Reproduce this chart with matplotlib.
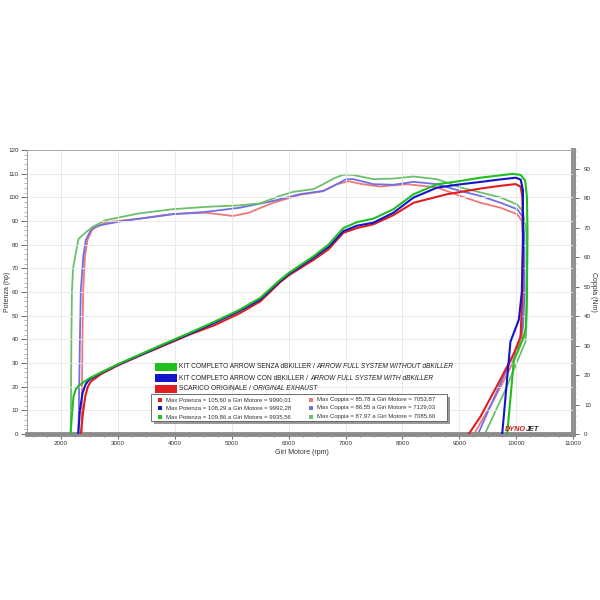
import matplotlib
matplotlib.use("Agg")
import matplotlib.pyplot as plt
from matplotlib.patches import Rectangle
import numpy as np

FONT = ['Liberation Sans', 'DejaVu Sans']
plt.rcParams['font.family'] = FONT

# ---------------- data ----------------
# Power curves (hp) : rpm / hp
green_pw_rpm = [2164, 2190, 2217, 2260, 2317, 2400, 2494, 2700, 3000, 3376, 3800, 4257, 4700, 5139, 5500, 5845, 6000, 6432, 6700, 6962, 7200, 7491, 7843, 8196, 8608, 9019, 9372, 9725, 9935, 10080, 10160, 10190, 10200, 10190, 10170, 10135, 9960, 9843]
green_pw_hp = [0, 8, 15.8, 19, 20.5, 22, 23.5, 26, 29.5, 33.5, 38, 42.7, 47.5, 52.5, 57.5, 65, 68, 75, 80, 87, 89.5, 91, 95, 101.3, 105.5, 106.9, 108.3, 109.3, 109.9, 109.5, 107, 100, 85, 60, 45, 41, 31, 0]

blue_pw_rpm = [2300, 2330, 2376, 2430, 2494, 2700, 3000, 3376, 3800, 4257, 4700, 5139, 5500, 5845, 6000, 6432, 6700, 6962, 7200, 7491, 7843, 8196, 8608, 9019, 9372, 9700, 9992, 10080, 10120, 10120, 10100, 10048, 9900, 9755]
blue_pw_hp = [0, 10, 17.2, 21, 23, 25.8, 29.3, 33.2, 37.7, 42.3, 47, 52, 56.8, 64.5, 67.5, 74.4, 79, 85.7, 88, 89.3, 93.5, 99.9, 104.1, 105.5, 106.5, 107.5, 108.3, 107.5, 103, 80, 60, 48.3, 39, 0]

red_pw_rpm = [2347, 2380, 2423, 2470, 2523, 2700, 3000, 3376, 3800, 4257, 4700, 5139, 5500, 5845, 6000, 6432, 6700, 6962, 7200, 7491, 7843, 8196, 8784, 9372, 9700, 9990, 10080, 10110, 10120, 10110, 10078, 9960, 9700, 9372, 9166]
red_pw_hp = [0, 8, 15.8, 20, 22.2, 25.3, 29, 33, 37.3, 42, 46, 51, 56, 64, 67, 73.5, 78, 85, 87, 88.6, 92.5, 97.7, 101.3, 103.7, 104.8, 105.6, 104.5, 100, 85, 60, 41, 34, 22, 7.3, 0]

# Torque curves (Nm)
green_tq_rpm = [2170, 2180, 2190, 2210, 2305, 2450, 2552, 2788, 3376, 3963, 4551, 5139, 5500, 5845, 6080, 6432, 6608, 6800, 6962, 7086, 7138, 7491, 7843, 8196, 8608, 9019, 9372, 9725, 10019, 10120, 10180, 10195, 10180, 10166, 9800, 9450]
green_tq_nm = [0, 32.1, 48.2, 56.3, 66.2, 68.7, 70.3, 72.6, 74.9, 76.3, 77.1, 77.6, 78.3, 80.8, 82.2, 83.1, 84.8, 86.8, 88.0, 87.97, 87.9, 86.5, 86.7, 87.4, 86.5, 83.7, 82.0, 80.3, 77.9, 75.5, 68.3, 48.2, 36.2, 31.4, 14.5, 0]

blue_tq_rpm = [2305, 2330, 2347, 2390, 2435, 2520, 2611, 3081, 3963, 4551, 5139, 5727, 6198, 6608, 6850, 7000, 7129, 7491, 7843, 8196, 8608, 9019, 9372, 9725, 10019, 10110, 10140, 10150, 10120, 10019, 9700, 9330]
blue_tq_nm = [0, 32.1, 49.0, 60.3, 65.9, 69.1, 70.6, 72.3, 74.6, 75.4, 76.8, 79.1, 81.4, 82.5, 84.8, 86.4, 86.55, 84.8, 84.6, 85.6, 84.8, 82.5, 80.8, 78.5, 76.3, 73.9, 68.3, 48.2, 36.2, 29.7, 16.1, 0]

red_tq_rpm = [2360, 2375, 2388, 2420, 2464, 2550, 2800, 3376, 3963, 4551, 5021, 5300, 5700, 6200, 6600, 6850, 7054, 7300, 7609, 8078, 8608, 9019, 9372, 9725, 10019, 10100, 10130, 10130, 10107, 9900, 9600, 9260]
red_tq_nm = [0, 32.1, 49.0, 60.3, 65.9, 69.5, 71.9, 73.1, 74.7, 75.1, 74.0, 75.1, 78.3, 81.2, 82.4, 84.8, 85.78, 84.8, 84.0, 84.8, 83.7, 80.8, 78.5, 76.8, 74.6, 72.3, 64.3, 48.2, 33.0, 22.5, 11.3, 0]

legend_labels = [
    ("KIT COMPLETO ARROW SENZA dBKILLER / ", "ARROW FULL SYSTEM WITHOUT dBKILLER"),
    ("KIT COMPLETO ARROW CON dBKILLER / ", "ARROW FULL SYSTEM WITH dBKILLER"),
    ("SCARICO ORIGINALE / ", "ORIGINAL EXHAUST"),
]
table_left = [
    "Max Potenza = 105,60 a Giri Motore = 9990,01",
    "Max Potenza = 108,29 a Giri Motore = 9992,28",
    "Max Potenza = 109,86 a Giri Motore = 9935,56",
]
table_right = [
    "Max Coppia = 85,78 a Giri Motore = 7053,87",
    "Max Coppia = 86,55 a Giri Motore = 7129,03",
    "Max Coppia = 87,97 a Giri Motore = 7085,60",
]

# ---------------- style ----------------
C_GREEN = '#1fbf1f'
C_BLUE = '#1414c8'
C_RED = '#e01e1e'
C_LGREEN = '#6cbf6c'
C_LBLUE = '#7070e6'
C_LRED = '#f07878'

W = H = 600
fig = plt.figure(figsize=(6, 6), dpi=100)
fig.patch.set_facecolor('white')

def fx(x):
    return x / W

def fy(y):
    return 1 - y / H

ax = fig.add_axes([fx(27), fy(434), fx(573) - fx(27), fy(150) - fy(434)])
ax.set_xlim(1400, 11000)
ax.set_ylim(0, 120)
ax2 = ax.twinx()
ax2.set_ylim(0, 96.4)

for a in (ax, ax2):
    for s in a.spines.values():
        s.set_color('#a0a0a0')
        s.set_linewidth(0.6)

ax.spines['bottom'].set_color('#8c8c8c')
ax.spines['bottom'].set_linewidth(3.5)
ax2.spines['bottom'].set_visible(False)
ax2.spines['right'].set_color('#8c8c8c')
ax2.spines['right'].set_linewidth(3.5)

ax.set_xticks(np.arange(2000, 11001, 1000))
ax.set_xticks(np.arange(1500, 11001, 250), minor=True)
ax.set_yticks(np.arange(0, 121, 10))
ax.set_yticks(np.arange(0, 121, 2), minor=True)
ax2.set_yticks(np.arange(0, 91, 10))
ax2.set_yticks(np.arange(0, 97, 2), minor=True)

tick_kw = dict(labelsize=4.5, colors='#555555', labelcolor='#333333')
ax.tick_params(axis='x', which='major', length=3.5, width=0.6, pad=1.5, **tick_kw)
ax.tick_params(axis='x', which='minor', length=2.5, width=0.5, colors='#666666')
ax.tick_params(axis='y', which='major', length=4, width=0.6, pad=2, **tick_kw)
ax.tick_params(axis='y', which='minor', length=2, width=0.4, colors='#777777')
ax2.tick_params(axis='y', which='major', length=4, width=0.6, pad=4, **tick_kw)
ax2.tick_params(axis='y', which='minor', length=2, width=0.4, colors='#777777')

ax.grid(True, which='major', color='#e6e6e6', linewidth=0.6)
ax.set_axisbelow(True)

# curves
ax2.plot(red_tq_rpm, red_tq_nm, color=C_LRED, lw=1.3, solid_joinstyle='round', zorder=3)
ax2.plot(blue_tq_rpm, blue_tq_nm, color=C_LBLUE, lw=1.3, solid_joinstyle='round', zorder=3)
ax2.plot(green_tq_rpm, green_tq_nm, color=C_LGREEN, lw=1.3, solid_joinstyle='round', zorder=3)
ax.plot(red_pw_rpm, red_pw_hp, color=C_RED, lw=1.5, solid_joinstyle='round', zorder=4)
ax.plot(blue_pw_rpm, blue_pw_hp, color=C_BLUE, lw=1.5, solid_joinstyle='round', zorder=4)
ax.plot(green_pw_rpm, green_pw_hp, color=C_GREEN, lw=1.5, solid_joinstyle='round', zorder=4)
ax.set_zorder(ax2.get_zorder() + 1)
ax.patch.set_visible(False)

# axis labels
fig.text(fx(8), fy(292), 'Potenza (hp)', rotation=90, ha='center', va='center', fontsize=5, color='#333333')
fig.text(fx(594), fy(292), 'Coppia (Nm)', rotation=270, ha='center', va='center', fontsize=5, color='#333333')
fig.text(fx(302), fy(453), 'Giri Motore (rpm)', ha='center', va='center', fontsize=5, color='#333333')

# legend
leg_colors = [C_GREEN, C_BLUE, C_RED]
leg_y = [367, 378, 389]
for col, (t_norm, t_ital), y in zip(leg_colors, legend_labels, leg_y):
    fig.patches.append(Rectangle((fx(155), fy(y + 4)), fx(22), fy(y - 4) - fy(y + 4),
                                 transform=fig.transFigure, facecolor=col, edgecolor='none'))
    t1 = fig.text(fx(179), fy(y), t_norm, ha='left', va='center', fontsize=4.8, color='#222222')
    ax.annotate(t_ital, xy=(1, 0.5), xycoords=t1, ha='left', va='center',
                fontsize=4.8, style='italic', color='#222222', annotation_clip=False)

# stats table with shadow
bx0, by0, bx1, by1 = 151, 394, 447, 421
fig.patches.append(Rectangle((fx(bx0 + 3), fy(by1 + 3)), fx(bx1 - bx0), fy(by0) - fy(by1),
                             transform=fig.transFigure, facecolor='#9a9a9a', edgecolor='none', zorder=5))
fig.patches.append(Rectangle((fx(bx0), fy(by1)), fx(bx1 - bx0), fy(by0) - fy(by1),
                             transform=fig.transFigure, facecolor='white', edgecolor='#555555', lw=0.6, zorder=6))
row_y = [399.5, 408, 416.5]
left_cols = [C_RED, C_BLUE, C_GREEN]
right_cols = [C_LRED, C_LBLUE, C_LGREEN]
for y, tl, tr, cl, cr in zip(row_y, table_left, table_right, left_cols, right_cols):
    fig.patches.append(Rectangle((fx(158), fy(y + 2)), fx(4), fy(y - 2) - fy(y + 2),
                                 transform=fig.transFigure, facecolor=cl, edgecolor='none', zorder=7))
    fig.text(fx(166), fy(y), tl, ha='left', va='center', fontsize=4.3, color='#333333', zorder=7)
    fig.patches.append(Rectangle((fx(309), fy(y + 2)), fx(4), fy(y - 2) - fy(y + 2),
                                 transform=fig.transFigure, facecolor=cr, edgecolor='none', zorder=7))
    fig.text(fx(317), fy(y), tr, ha='left', va='center', fontsize=4.3, color='#333333', zorder=7)

# Dynojet mark
td = fig.text(fx(505), fy(429.5), 'DYNO', ha='left', va='center', fontsize=5.2,
              style='italic', weight='bold', color='#d41818', zorder=8)
ax.annotate('JET', xy=(1, 0.5), xycoords=td, ha='left', va='center', fontsize=5.2,
            style='italic', weight='bold', color='#222222', annotation_clip=False)

fig.savefig('out.png', dpi=100, facecolor='white')
